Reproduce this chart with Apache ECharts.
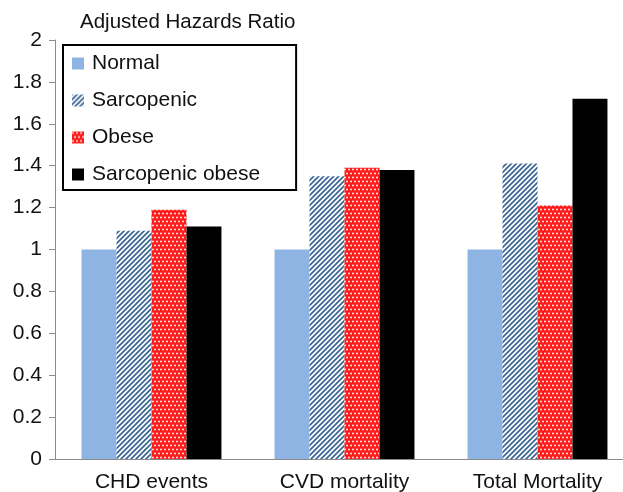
<!DOCTYPE html>
<html>
<head>
<meta charset="utf-8">
<script src="https://cdn.jsdelivr.net/npm/echarts@6/dist/echarts.min.js"></script>
<style>
html,body{margin:0;padding:0;background:#fff;}
#chart{width:623px;height:492px;}
</style>
</head>
<body>
<div id="chart"></div>
<script>
var categories = ['CHD events', 'CVD mortality', 'Total Mortality'];
var normal = [1, 1, 1];
var sarcopenic = [1.09, 1.35, 1.41];
var obese = [1.19, 1.39, 1.21];
var sarcoObese = [1.11, 1.38, 1.72];
var yTicks = [0, 0.2, 0.4, 0.6, 0.8, 1, 1.2, 1.4, 1.6, 1.8, 2];

// diagonal stripes (sarcopenic)
function stripePattern() {
    var s = 5;
    var c = document.createElement('canvas');
    c.width = s; c.height = s;
    var ctx = c.getContext('2d');
    ctx.fillStyle = '#ffffff';
    ctx.fillRect(0, 0, s, s);
    ctx.strokeStyle = '#3f6796';
    ctx.lineWidth = 1.8;
    ctx.beginPath();
    ctx.moveTo(-1, s + 1); ctx.lineTo(s + 1, -1);
    ctx.moveTo(-1, 1); ctx.lineTo(1, -1);
    ctx.moveTo(s - 1, s + 1); ctx.lineTo(s + 1, s - 1);
    ctx.stroke();
    return c;
}
// red with white dots (obese)
function dotPattern() {
    var c = document.createElement('canvas');
    c.width = 4; c.height = 8;
    var ctx = c.getContext('2d');
    ctx.fillStyle = '#ff1a1a';
    ctx.fillRect(0, 0, 4, 8);
    ctx.fillStyle = '#ffffff';
    ctx.beginPath();
    ctx.arc(1, 1.5, 0.9, 0, Math.PI * 2);
    ctx.fill();
    ctx.beginPath();
    ctx.arc(3, 5.5, 0.9, 0, Math.PI * 2);
    ctx.fill();
    return c;
}

var font = 'Liberation Sans, Arial, sans-serif';
var chart = echarts.init(document.getElementById('chart'));
var option = {
    animation: false,
    textStyle: { fontFamily: font },
    // plot runs past the right edge, like the cropped original
    grid: { left: 55, width: 579, top: 40, bottom: 33, outerBoundsMode: 'none' },
    graphic: [{
        type: 'text', left: 80, top: 12,
        style: { text: 'Adjusted Hazards Ratio', font: '20.5px ' + font, fill: '#111' }
    }],
    legend: {
        orient: 'vertical',
        left: 63, top: 45,
        padding: [8, 36, 5, 9],
        icon: 'rect',
        itemWidth: 12, itemHeight: 12,
        itemGap: 16,
        borderColor: '#000', borderWidth: 2,
        textStyle: { fontSize: 21, color: '#111', fontFamily: font, padding: [0, 0, 0, 3] },
        data: ['Normal', 'Sarcopenic', 'Obese', 'Sarcopenic obese']
    },
    xAxis: {
        type: 'category',
        data: categories,
        axisLine: { lineStyle: { color: '#8a8a8a', width: 1 } },
        axisTick: { length: 6, lineStyle: { color: '#8a8a8a' } },
        axisLabel: { fontSize: 21, color: '#111', margin: 13 }
    },
    yAxis: {
        type: 'value',
        min: 0, max: 2, interval: 0.2,
        splitLine: { show: false },
        axisLine: { show: true, lineStyle: { color: '#8a8a8a' } },
        axisTick: { show: true, length: 6, lineStyle: { color: '#8a8a8a' } },
        axisLabel: {
            fontSize: 21, color: '#111', margin: 13,
            formatter: function (v) {
                for (var i = 0; i < yTicks.length; i++) {
                    if (Math.abs(yTicks[i] - v) < 1e-6) return String(yTicks[i]);
                }
                return '';
            }
        }
    },
    series: [
        { name: 'Normal', type: 'bar', data: normal, barGap: '0%', barCategoryGap: '27.5%',
          itemStyle: { color: '#8db4e2' } },
        { name: 'Sarcopenic', type: 'bar', data: sarcopenic,
          itemStyle: { color: { image: stripePattern(), repeat: 'repeat' } } },
        { name: 'Obese', type: 'bar', data: obese,
          itemStyle: { color: { image: dotPattern(), repeat: 'repeat' } } },
        { name: 'Sarcopenic obese', type: 'bar', data: sarcoObese,
          itemStyle: { color: '#000' } }
    ]
};
chart.setOption(option);
</script>
</body>
</html>
